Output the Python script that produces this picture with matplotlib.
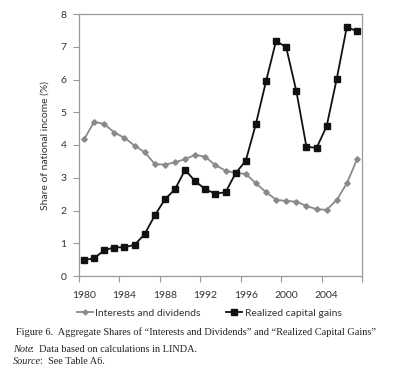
import matplotlib
matplotlib.use("Agg")
import matplotlib.pyplot as plt
import numpy as np

years = list(range(1980, 2008))
interest_dividends = [4.17, 4.71, 4.64, 4.38, 4.22, 3.98, 3.78, 3.42, 3.40, 3.47, 3.57, 3.70,
                      3.64, 3.38, 3.22, 3.14, 3.12, 2.83, 2.56, 2.33, 2.29, 2.27, 2.14, 2.04,
                      2.02, 2.32, 2.83, 3.56]
capital_gains = [0.49, 0.54, 0.79, 0.87, 0.88, 0.95, 1.28, 1.85, 2.34, 2.65, 3.24, 2.89,
                 2.65, 2.51, 2.56, 3.14, 3.52, 4.64, 5.94, 7.18, 6.98, 5.65, 3.95, 3.91,
                 4.57, 6.02, 7.61, 7.47]
tick_years = [1980, 1984, 1988, 1992, 1996, 2000, 2004]
yticks = [0, 1, 2, 3, 4, 5, 6, 7, 8]

sans = ["Lato", "DejaVu Sans"]
serif = ["Liberation Serif", "DejaVu Serif"]
fs = 7.5

fig = plt.figure(figsize=(4.0, 3.73), dpi=100)
ax = fig.add_axes([79/400, 1-276/373, (362-79)/400, (276-14)/373])

x = np.arange(len(years))
gray = "#8a8a8a"
ax.plot(x, interest_dividends, color=gray, lw=1.3, marker="D", ms=2.8,
        mfc=gray, mec=gray, label="Interests and dividends")
ax.plot(x, capital_gains, color="#111111", lw=1.3, marker="s", ms=4.2,
        mfc="#111111", mec="#111111", label="Realized capital gains")

ax.set_xlim(-0.5, len(years) - 0.5)
ax.set_ylim(0, 8)
ax.set_yticks(yticks)
ax.set_yticklabels([str(v) for v in yticks], fontsize=fs, family=sans, color="#333333")
ax.set_xticks(np.arange(-0.5, len(years), 4))
ax.set_xticklabels([])
ax.set_xticks([years.index(t) for t in tick_years], minor=True)
ax.set_xticklabels([str(t) for t in tick_years], minor=True, fontsize=fs, family=sans, color="#333333")
ax.tick_params(axis="x", which="minor", length=0, pad=11)
ax.tick_params(axis="x", which="major", length=4, color="#999999", width=0.8)
ax.tick_params(axis="y", length=4, color="#999999", width=0.8, pad=5)
for s in ax.spines.values():
    s.set_color("#9a9a9a")
    s.set_linewidth(0.9)
ax.set_ylabel("Share of national income (%)", fontsize=fs, family=sans, color="#333333", labelpad=8)

fig.legend(loc="center", bbox_to_anchor=(209/400, 1-313/373), ncol=2, frameon=False,
           prop={"family": sans, "size": fs}, handlelength=1.6, handletextpad=0.2,
           columnspacing=2.4, labelcolor="#333333", markerscale=0.9)

fig.text(16/400, 1-332/373,
         "Figure 6.  Aggregate Shares of \u201cInterests and Dividends\u201d and \u201cRealized Capital Gains\u201d",
         fontsize=7.35, family=serif, va="center", ha="left", color="#222222")

renderer = fig.canvas.get_renderer()
def two_part(xpx, ypx, italic, rest):
    t = fig.text(xpx/400, 1-ypx/373, italic, fontsize=7.35, family=serif, style="italic",
                 va="center", ha="left", color="#222222")
    bb = t.get_window_extent(renderer)
    fig.text((bb.x1 - 1.5)/400, 1-ypx/373, rest, fontsize=7.35, family=serif, va="center", ha="left",
             color="#222222")

two_part(13, 350, "Note", ":  Data based on calculations in LINDA.")
two_part(13, 361, "Source", ":  See Table A6.")

fig.savefig("out.png", dpi=100)
